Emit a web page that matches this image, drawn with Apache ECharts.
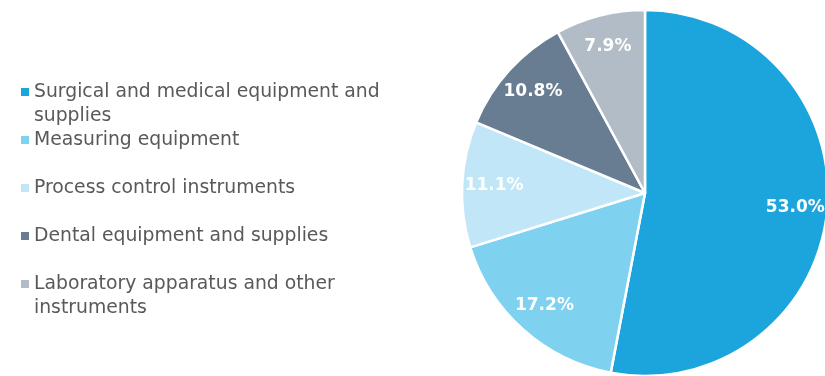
<!DOCTYPE html>
<html>
<head>
<meta charset="utf-8">
<script src="https://cdn.jsdelivr.net/npm/echarts@6/dist/echarts.min.js"></script>
<style>
html,body{margin:0;padding:0;background:#fff;}
#chart{width:825px;height:376px;}
</style>
</head>
<body>
<div id="chart"></div>
<script>
const categories = [
  'Surgical and medical equipment and\nsupplies',
  'Measuring equipment',
  'Process control instruments',
  'Dental equipment and supplies',
  'Laboratory apparatus and other\ninstruments'
];
const values = [53.0, 17.2, 11.1, 10.8, 7.9];
const colors = ['#1CA4DC', '#7FD1F0', '#C0E6F7', '#687D92', '#B2BCC7'];

const FONT = 'DejaVu Sans';
const chart = echarts.init(document.getElementById('chart'), null, {renderer: 'canvas'});

chart.setOption({
  animation: false,
  backgroundColor: '#ffffff',
  color: colors,
  legend: {
    orient: 'vertical',
    left: 16,
    top: 51,
    itemWidth: 8,
    itemHeight: 8,
    itemGap: -24,
    icon: 'rect',
    selectedMode: false,
    data: categories,
    itemStyle: { borderWidth: 0 },
    formatter: function (name) {
      return name.indexOf('\n') >= 0 ? ' \n' + name : ' \n' + name + '\n ';
    },
    textStyle: {
      fontFamily: FONT,
      fontSize: 18.8,
      color: '#595959',
      lineHeight: 24
    }
  },
  series: [
    {
      type: 'pie',
      center: [645, 193],
      radius: 183,
      startAngle: 90,
      clockwise: true,
      silent: true,
      data: categories.map(function (c, i) { return { name: c, value: values[i] }; }),
      itemStyle: { borderColor: '#ffffff', borderWidth: 2.5 },
      label: { show: false },
      labelLine: { show: false }
    },
    {
      type: 'pie',
      center: [645, 193],
      radius: [112, 184],
      startAngle: 90,
      clockwise: true,
      silent: true,
      legendHoverLink: false,
      data: categories.map(function (c, i) { return { name: c + ' ', value: values[i] }; }),
      itemStyle: { color: 'rgba(0,0,0,0)' },
      label: {
        show: true,
        position: 'inside',
        formatter: function (p) { return values[p.dataIndex].toFixed(1) + '%'; },
        color: '#ffffff',
        fontFamily: FONT,
        fontWeight: 'bold',
        fontSize: 17
      },
      labelLine: { show: false }
    }
  ]
});
</script>
</body>
</html>
